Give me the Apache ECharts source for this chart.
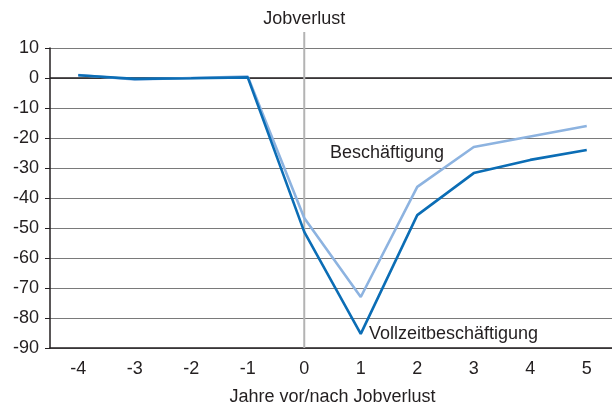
<!DOCTYPE html>
<html>
<head>
<meta charset="utf-8">
<script src="https://cdn.jsdelivr.net/npm/echarts@6/dist/echarts.min.js"></script>
<style>
  html, body { margin: 0; padding: 0; background: #fff; overflow: hidden; }
  #chart { width: 612px; height: 406px; }
</style>
</head>
<body>
<div id="chart"></div>
<script>
// Years relative to job loss
const years = ['-4', '-3', '-2', '-1', '0', '1', '2', '3', '4', '5'];
// Change in employment (in %)
const employment = [1, -0.5, 0, 0.5, -46.7, -73, -36.3, -23, -19.5, -16];
// Change in full-time employment (in %)
const fullTime = [0.9, -0.3, -0.1, 0.2, -51.3, -85.3, -45.7, -31.7, -27.3, -24];
// Value axis ticks
const yMin = -90, yMax = 10, yStep = 10;

const FONT = 'Liberation Sans, Arial, Helvetica, sans-serif';
const TEXT = '#231f20';

const chart = echarts.init(document.getElementById('chart'));

const option = {
  animation: false,
  backgroundColor: '#fff',
  // plot area runs slightly past the right edge of the canvas
  grid: {
    left: 50, top: 48, width: 565, height: 300,
    containLabel: false,
    outerBoundsMode: 'none'
  },
  xAxis: {
    type: 'category',
    data: years,
    boundaryGap: true,
    name: 'Jahre vor/nach Jobverlust',
    nameLocation: 'middle',
    nameGap: 40,
    nameTextStyle: { fontFamily: FONT, fontSize: 18, color: TEXT },
    axisLine: { onZero: false, lineStyle: { color: '#231f20', width: 1.5 } },
    axisTick: { length: 5, lineStyle: { color: '#231f20', width: 1 } },
    axisLabel: { margin: 12, fontFamily: FONT, fontSize: 18, color: TEXT },
    splitLine: { show: false }
  },
  yAxis: {
    type: 'value',
    min: yMin,
    max: yMax,
    interval: yStep,
    axisLine: { show: true, lineStyle: { color: '#231f20', width: 1.5 } },
    axisTick: { show: true, length: 5, lineStyle: { color: '#231f20' } },
    axisLabel: { margin: 11, fontFamily: FONT, fontSize: 18, color: TEXT },
    splitLine: { show: true, lineStyle: { color: '#7a7a7a', width: 1.2 } }
  },
  series: [
    {
      name: 'Beschäftigung',
      type: 'line',
      data: employment,
      symbol: 'none',
      z: 3,
      lineStyle: { color: '#8db3e0', width: 2.6 }
    },
    {
      name: 'Vollzeitbeschäftigung',
      type: 'line',
      data: fullTime,
      symbol: 'none',
      z: 4,
      lineStyle: { color: '#0b6db5', width: 2.6 }
    }
  ]
};

chart.setOption(option);

// Zero line, job-loss marker and inline series labels, placed via the axes
const zeroPt = chart.convertToPixel({ xAxisIndex: 0, yAxisIndex: 0 }, ['-4', 0]);
const plotBottom = chart.convertToPixel({ yAxisIndex: 0 }, yMin);
const plotTop = chart.convertToPixel({ yAxisIndex: 0 }, yMax);
const xJob = chart.convertToPixel({ xAxisIndex: 0 }, '0');
const gridRight = chart.getWidth();

chart.setOption({
  graphic: [
    {
      type: 'line',
      z: 1,
      shape: { x1: 50, y1: zeroPt[1], x2: gridRight, y2: zeroPt[1] },
      style: { stroke: '#231f20', lineWidth: 1.5 }
    },
    {
      type: 'line',
      z: 2,
      shape: { x1: xJob, y1: plotTop - 16, x2: xJob, y2: plotBottom },
      style: { stroke: '#b3b3b3', lineWidth: 2 }
    },
    {
      type: 'text',
      x: xJob,
      y: plotTop - 29,
      style: {
        text: 'Jobverlust',
        font: '18px ' + FONT,
        fill: TEXT,
        align: 'center',
        verticalAlign: 'middle'
      }
    },
    {
      type: 'text',
      x: 330,
      y: 153,
      z: 10,
      style: {
        text: 'Beschäftigung',
        font: '18px ' + FONT,
        fill: TEXT,
        align: 'left',
        verticalAlign: 'middle'
      }
    },
    {
      type: 'text',
      x: 369,
      y: 334,
      z: 10,
      style: {
        text: 'Vollzeitbeschäftigung',
        font: '18px ' + FONT,
        fill: TEXT,
        align: 'left',
        verticalAlign: 'middle'
      }
    }
  ]
});
</script>
</body>
</html>
